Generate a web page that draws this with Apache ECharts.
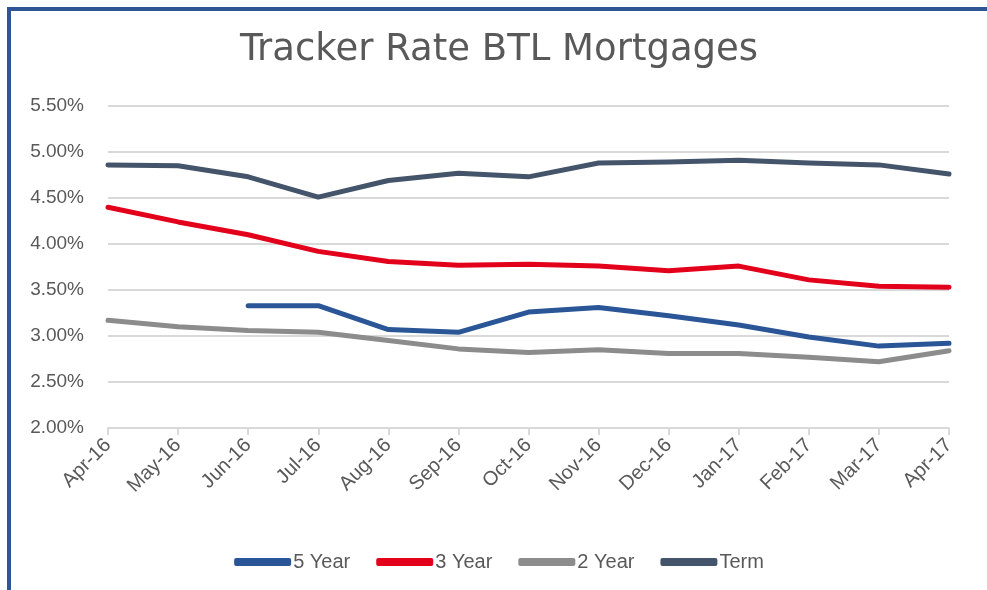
<!DOCTYPE html>
<html>
<head>
<meta charset="utf-8">
<script src="https://cdn.jsdelivr.net/npm/echarts@6/dist/echarts.min.js"></script>
<style>
  html, body { margin: 0; padding: 0; background: #fff; }
  #main_chart {
    position: absolute; left: 7px; top: 7px;
    width: 980px; height: 583px;
    border-left: 4px solid #2F5597; border-top: 4px solid #2F5597;
    box-sizing: border-box;
  }
</style>
</head>
<body>
<div id="main_chart"></div>
<script>
// months on the x axis
var months = ['Apr-16', 'May-16', 'Jun-16', 'Jul-16', 'Aug-16', 'Sep-16', 'Oct-16',
  'Nov-16', 'Dec-16', 'Jan-17', 'Feb-17', 'Mar-17', 'Apr-17'];

// rates in %
var fiveYear  = [null, null, 3.33, 3.33, 3.07, 3.04, 3.26, 3.31, 3.22, 3.12, 2.99, 2.89, 2.92];
var threeYear = [4.40, 4.24, 4.10, 3.92, 3.81, 3.77, 3.78, 3.76, 3.71, 3.76, 3.61, 3.54, 3.53];
var twoYear   = [3.17, 3.10, 3.06, 3.04, 2.95, 2.86, 2.82, 2.85, 2.81, 2.81, 2.77, 2.72, 2.84];
var term      = [4.86, 4.85, 4.73, 4.51, 4.69, 4.77, 4.73, 4.88, 4.89, 4.91, 4.88, 4.86, 4.76];

var seriesNames = ['5 Year', '3 Year', '2 Year', 'Term'];
var colors = ['#2A5596', '#E3001B', '#8C8C8C', '#44546A'];

var myChart = echarts.init(document.getElementById('main_chart'));

function lineSeries(name, data, color) {
  return {
    name: name,
    type: 'line',
    data: data,
    showSymbol: false,
    symbol: 'none',
    color: color,
    lineStyle: { width: 5, color: color, cap: 'round', join: 'round' }
  };
}

var option = {
  animation: false,
  title: {
    text: 'Tracker Rate BTL Mortgages',
    left: 'center',
    top: 16,
    textStyle: { fontFamily: 'DejaVu Sans', fontSize: 37, fontWeight: 'normal', color: '#595959' }
  },
  grid: { left: 97, right: 38, top: 95, bottom: 162 },
  legend: {
    bottom: 13,
    left: 'center',
    icon: 'roundRect',
    itemWidth: 57,
    itemHeight: 8,
    itemGap: 26,
    textStyle: { fontFamily: 'Liberation Sans', fontSize: 20, color: '#595959', padding: [0, 0, 0, -3] },
    data: seriesNames
  },
  xAxis: {
    type: 'category',
    data: months,
    boundaryGap: false,
    axisLine: { lineStyle: { color: '#D9D9D9', width: 2 } },
    axisTick: { show: true, alignWithLabel: true, length: 7, lineStyle: { color: '#D9D9D9', width: 2 } },
    axisLabel: { rotate: 45, fontFamily: 'Liberation Sans', fontSize: 20, color: '#595959', margin: 14 }
  },
  yAxis: {
    type: 'value',
    min: 2,
    max: 5.5,
    interval: 0.5,
    axisLine: { show: false },
    axisTick: { show: false },
    splitLine: { lineStyle: { color: '#D9D9D9', width: 2 } },
    axisLabel: {
      fontFamily: 'Liberation Sans', fontSize: 19, color: '#595959', margin: 24,
      formatter: function (v) { return v.toFixed(2) + '%'; }
    }
  },
  series: [
    lineSeries(seriesNames[0], fiveYear, colors[0]),
    lineSeries(seriesNames[1], threeYear, colors[1]),
    lineSeries(seriesNames[2], twoYear, colors[2]),
    lineSeries(seriesNames[3], term, colors[3])
  ]
};
myChart.setOption(option);
</script>
</body>
</html>
